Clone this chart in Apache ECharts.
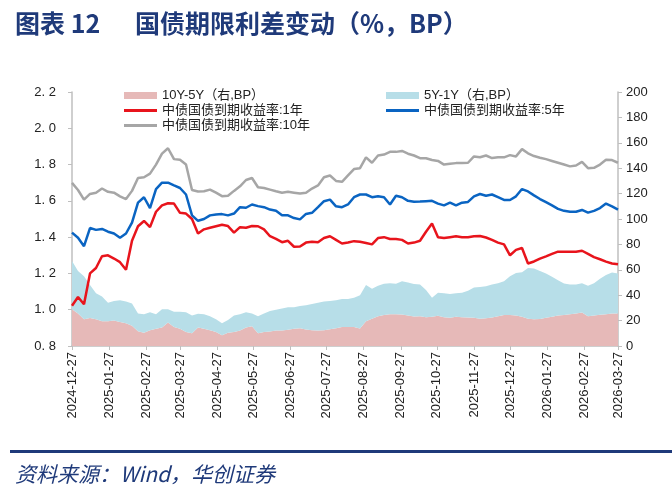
<!DOCTYPE html>
<html>
<head>
<meta charset="utf-8">
<script src="https://cdn.jsdelivr.net/npm/echarts@6/dist/echarts.min.js"></script>
<style>
  html, body { margin: 0; padding: 0; background: #fff; }
  #chart { width: 672px; height: 493px; }
</style>
</head>
<body>
<div id="chart"></div>
<script>
// sample dates, every 5 days
var dates = [
  '2024-12-27','2025-01-01','2025-01-06','2025-01-11','2025-01-16','2025-01-21','2025-01-26','2025-01-31',
  '2025-02-05','2025-02-10','2025-02-15','2025-02-20','2025-02-25','2025-03-02','2025-03-07','2025-03-12',
  '2025-03-17','2025-03-22','2025-03-27','2025-04-01','2025-04-06','2025-04-11','2025-04-16','2025-04-21',
  '2025-04-26','2025-05-01','2025-05-06','2025-05-11','2025-05-16','2025-05-21','2025-05-26','2025-05-31',
  '2025-06-05','2025-06-10','2025-06-15','2025-06-20','2025-06-25','2025-06-30','2025-07-05','2025-07-10',
  '2025-07-15','2025-07-20','2025-07-25','2025-07-30','2025-08-04','2025-08-09','2025-08-14','2025-08-19',
  '2025-08-24','2025-08-29','2025-09-03','2025-09-08','2025-09-13','2025-09-18','2025-09-23','2025-09-28',
  '2025-10-03','2025-10-08','2025-10-13','2025-10-18','2025-10-23','2025-10-28','2025-11-02','2025-11-07',
  '2025-11-12','2025-11-17','2025-11-22','2025-11-27','2025-12-02','2025-12-07','2025-12-12','2025-12-17',
  '2025-12-22','2025-12-27','2026-01-01','2026-01-06','2026-01-11','2026-01-16','2026-01-21','2026-01-26',
  '2026-01-31','2026-02-05','2026-02-10','2026-02-15','2026-02-20','2026-02-25','2026-03-02','2026-03-07',
  '2026-03-12','2026-03-17','2026-03-22','2026-03-27'
];

var tickLabels = [
  '2024-12-27','2025-01-27','2025-02-27','2025-03-27','2025-04-27','2025-05-27','2025-06-27','2025-07-27',
  '2025-08-27','2025-09-27','2025-10-27','2025-11-27','2025-12-27','2026-01-27','2026-02-27','2026-03-27'
];

// 中债国债到期收益率 (%)
var y1 = [
  1.022,1.07,1.03,1.20,1.23,1.295,1.30,1.282,1.262,1.22,1.38,1.46,1.489,1.455,1.54,1.575,
  1.587,1.585,1.534,1.53,1.50,1.42,1.443,1.452,1.46,1.468,1.461,1.425,1.455,1.452,1.461,1.46,
  1.443,1.405,1.39,1.372,1.38,1.347,1.348,1.37,1.375,1.372,1.395,1.405,1.385,1.365,1.37,1.378,
  1.375,1.368,1.36,1.395,1.40,1.39,1.39,1.385,1.365,1.37,1.38,1.43,1.475,1.40,1.395,1.40,
  1.405,1.40,1.40,1.405,1.406,1.398,1.385,1.37,1.36,1.30,1.33,1.34,1.255,1.266,1.282,1.294,
  1.308,1.32,1.32,1.32,1.32,1.325,1.308,1.29,1.278,1.265,1.255,1.25
];
var y5 = [
  1.425,1.397,1.35,1.45,1.44,1.445,1.43,1.42,1.397,1.42,1.48,1.59,1.62,1.56,1.665,1.70,
  1.70,1.685,1.671,1.635,1.52,1.49,1.50,1.52,1.525,1.527,1.52,1.53,1.565,1.562,1.58,1.571,
  1.565,1.552,1.545,1.52,1.52,1.505,1.498,1.528,1.534,1.565,1.598,1.607,1.57,1.565,1.58,1.62,
  1.635,1.635,1.62,1.625,1.62,1.58,1.628,1.62,1.60,1.595,1.596,1.598,1.60,1.585,1.575,1.59,
  1.575,1.59,1.594,1.625,1.638,1.628,1.635,1.62,1.605,1.605,1.625,1.665,1.652,1.63,1.61,1.593,
  1.575,1.556,1.545,1.54,1.54,1.55,1.535,1.545,1.56,1.585,1.57,1.552
];
var y10 = [
  1.699,1.66,1.607,1.638,1.645,1.668,1.65,1.645,1.625,1.61,1.655,1.726,1.73,1.75,1.80,1.86,
  1.89,1.83,1.826,1.80,1.66,1.652,1.653,1.662,1.645,1.626,1.628,1.655,1.68,1.715,1.726,1.675,
  1.671,1.662,1.653,1.645,1.65,1.645,1.64,1.645,1.668,1.685,1.73,1.74,1.71,1.705,1.74,1.775,
  1.78,1.84,1.81,1.85,1.855,1.87,1.87,1.875,1.86,1.85,1.835,1.835,1.825,1.82,1.80,1.805,
  1.808,1.808,1.81,1.845,1.84,1.85,1.836,1.84,1.84,1.852,1.845,1.885,1.862,1.847,1.838,1.83,
  1.82,1.81,1.80,1.79,1.795,1.815,1.78,1.782,1.80,1.826,1.825,1.81
];

// 利差 (BP)
var spread10y5y = [
  29,25.5,21,22,21,19.5,19.5,20,18.8,18,16,11.7,10.5,12.5,13.5,14.5,
  18.5,15,13.6,11,10,14.5,13.6,12.5,11,8.5,10.5,11,12.3,14.5,15.5,10,
  11,11.5,12.3,12.3,12.8,13.5,14,13,12.5,12.3,12.5,13.2,14,15,15,15,
  13.8,19.5,21.5,23.5,24.5,25,25,24.8,24,23.2,23.5,22.7,23,23.8,22.7,22.3,
  23,22.7,22.5,22.3,21.5,21.8,22.5,23.5,24.5,24.5,24,23,21.5,21,21.3,22.2,
  23,24,24.5,25,25.5,26.3,23.5,24,24.6,25,25.5,25.5
];
var spread5y1y = [
  38,33.5,34,26,20.5,19.5,14.5,15.5,17.2,17,17.5,13.8,14.5,14,11.5,14.5,
  10.5,12,13.4,15.6,14,10.8,11.4,11,10,9.5,10,13,12.7,12,10,13.5,
  14.5,16,16.2,17.2,17.7,17,17.5,19,20.5,21.7,22.5,22.3,22,22,22,23,
  26.2,28.5,23.5,24,24.5,24.5,24,26.2,26,25.6,25,21.3,15,18.2,18.8,18.7,
  18.5,19.3,21,23.7,25,25.2,26,26,26.5,30.5,33.5,35,40,40,37.7,34.8,
  31.5,27.8,24.8,23.5,23,23.2,24,25.5,28.4,31,32.3,31.5
];

var leftTicks = { min: 0.8, max: 2.2, step: 0.2 };
var rightTicks = { min: 0, max: 200, step: 20 };

function toTime(s) { var p = s.split('-'); return Date.UTC(+p[0], +p[1] - 1, +p[2]); }
function pad(n) { return n < 10 ? '0' + n : '' + n; }

var names = {
  s105: '10Y-5Y（右,BP）',
  s51: '5Y-1Y（右,BP）',
  y1: '中债国债到期收益率:1年',
  y5: '中债国债到期收益率:5年',
  y10: '中债国债到期收益率:10年'
};
var navy = '#1f3a7a';
var axisGray = '#bfbfbf';
var lineIcon = 'path://M0 0 H33 V3 H0 Z';
var txt = { color: '#222', fontSize: 13, fontFamily: 'Liberation Sans, Noto Sans CJK SC, sans-serif' };
var tickTimes = tickLabels.map(toTime);

var myChart = echarts.init(document.getElementById('chart'));
var option = {
  animation: false,
  textStyle: { fontFamily: 'Noto Sans CJK SC, sans-serif' },
  title: [{
    text: '图表 12',
    left: 10, top: 6,
    textStyle: { color: navy, fontSize: 25, fontWeight: 'bold', fontFamily: 'Noto Sans CJK SC' }
  }, {
    text: '国债期限利差变动（%，BP）',
    left: 130, top: 6,
    textStyle: { color: navy, fontSize: 25, fontWeight: 'bold', fontFamily: 'Noto Sans CJK SC' }
  }, {
    text: '资料来源：Wind，华创证券',
    left: 10, top: 459,
    textStyle: { color: navy, fontSize: 21, fontWeight: 'normal', fontStyle: 'italic', fontFamily: 'Noto Sans CJK SC' }
  }],
  graphic: [{
    type: 'rect', shape: { x: 10, y: 450, width: 662, height: 3 }, style: { fill: navy }
  }],
  legend: [{
    left: 119, top: 84, orient: 'vertical', itemGap: 2, itemWidth: 33, itemHeight: 7,
    textStyle: txt,
    data: [
      { name: names.s105, icon: 'rect' },
      { name: names.y1, icon: lineIcon },
      { name: names.y10, icon: lineIcon }
    ]
  }, {
    left: 381, top: 84, orient: 'vertical', itemGap: 2, itemWidth: 33, itemHeight: 7,
    textStyle: txt,
    data: [
      { name: names.s51, icon: 'rect' },
      { name: names.y5, icon: lineIcon }
    ]
  }],
  grid: { left: 72, right: 54, top: 92, bottom: 147 },
  xAxis: [{
    // sample dates, drawn evenly (every 5 days)
    type: 'category', data: dates, boundaryGap: false, show: false
  }, {
    // calendar ticks on the 27th of each month
    type: 'value', position: 'bottom',
    min: tickTimes[0],
    max: tickTimes[tickTimes.length - 1],
    axisLine: { show: true, lineStyle: { color: axisGray, width: 1.5 } },
    axisTick: { show: true, length: 4, lineStyle: { color: axisGray }, customValues: tickTimes },
    axisLabel: {
      rotate: 90, margin: 6, color: '#222', fontSize: 13, fontFamily: 'Liberation Sans, sans-serif',
      customValues: tickTimes,
      formatter: function (v) {
        var d = new Date(v);
        return d.getUTCFullYear() + '-' + pad(d.getUTCMonth() + 1) + '-' + pad(d.getUTCDate());
      }
    },
    splitLine: { show: false }
  }],
  yAxis: [{
    type: 'value', min: leftTicks.min, max: leftTicks.max, interval: leftTicks.step,
    axisLine: { show: true, lineStyle: { color: axisGray, width: 1.5 } },
    axisTick: { show: true, length: 4, lineStyle: { color: axisGray } },
    axisLabel: {
      color: '#222', fontSize: 13, margin: 16, fontFamily: 'Liberation Sans, sans-serif',
      formatter: function (v) { return v.toFixed(1).replace('.', '. '); }
    },
    splitLine: { show: false }
  }, {
    type: 'value', min: rightTicks.min, max: rightTicks.max, interval: rightTicks.step,
    axisLine: { show: true, lineStyle: { color: axisGray, width: 1.5 } },
    axisTick: { show: true, length: 4, lineStyle: { color: axisGray } },
    axisLabel: { color: '#222', fontSize: 13, margin: 8, fontFamily: 'Liberation Sans, sans-serif' },
    splitLine: { show: false }
  }],
  series: [{
    name: names.s105, type: 'line', yAxisIndex: 1, stack: 'bp', symbol: 'none',
    lineStyle: { width: 0 }, itemStyle: { color: '#e6b9b8' },
    areaStyle: { color: '#e6b9b8', opacity: 1 },
    data: spread10y5y
  }, {
    name: names.s51, type: 'line', yAxisIndex: 1, stack: 'bp', symbol: 'none',
    lineStyle: { width: 0 }, itemStyle: { color: '#b7dee8' },
    areaStyle: { color: '#b7dee8', opacity: 1 },
    data: spread5y1y
  }, {
    name: names.y1, type: 'line', symbol: 'none',
    lineStyle: { width: 2.5, color: '#e8141c' }, itemStyle: { color: '#e8141c' },
    data: y1
  }, {
    name: names.y5, type: 'line', symbol: 'none',
    lineStyle: { width: 2.5, color: '#0a64c2' }, itemStyle: { color: '#0a64c2' },
    data: y5
  }, {
    name: names.y10, type: 'line', symbol: 'none',
    lineStyle: { width: 2.5, color: '#a6a6a6' }, itemStyle: { color: '#a6a6a6' },
    data: y10
  }]
};
myChart.setOption(option);
</script>
</body>
</html>
